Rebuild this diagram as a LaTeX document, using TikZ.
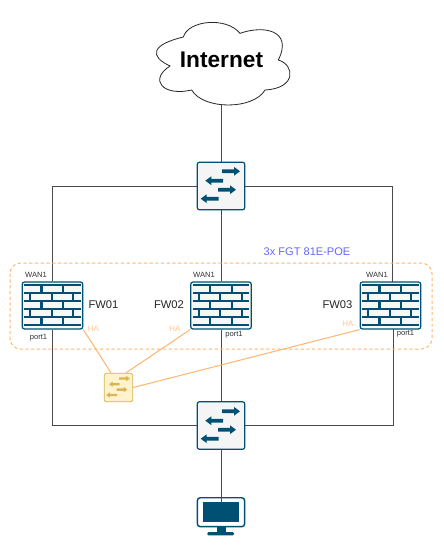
\documentclass[tikz,border=0pt]{standalone}
\usepackage{fontspec}
\setmainfont{Liberation Sans}
\usetikzlibrary{backgrounds}
\definecolor{netblue}{HTML}{005073}
\definecolor{hafill}{HTML}{FFF2CC}
\definecolor{haedge}{HTML}{D6B656}
\definecolor{orangeline}{HTML}{FFB570}
\definecolor{halabel}{HTML}{FFC79A}
\definecolor{grouplabel}{HTML}{6666FF}
\definecolor{wire}{HTML}{4A4A4A}
\tikzset{
  devbox/.style={draw=netblue,fill=#1,line width=0.9pt,rounded corners=1.6pt,inner sep=0pt},
  fwbox/.style={devbox=white!97!black,minimum width=45.3pt,minimum height=35.2pt},
  swbox/.style={devbox=white!96!black,minimum width=35.6pt,minimum height=35.6pt},
  habox/.style={draw=haedge,fill=hafill,line width=0.6pt,rounded corners=1.2pt,inner sep=0pt,minimum width=21.4pt,minimum height=21.4pt},
  pcbox/.style={draw=netblue,fill=white,line width=1.1pt,rounded corners=2.2pt,inner sep=0pt,minimum width=35.5pt,minimum height=21.7pt},
  wireline/.style={draw=wire,line width=0.7pt},
  haconn/.style={draw=orangeline,line width=0.75pt},
  small/.style={font=\fontsize{5.7}{6}\selectfont,text=black!80,inner sep=0pt},
  fwname/.style={font=\fontsize{8.4}{10}\selectfont,text=black!85,inner sep=0pt},
  halab/.style={font=\fontsize{6}{7}\selectfont,text=halabel,inner sep=0pt},
}
\newcommand{\brickicon}[2]{%
  \begin{scope}[shift={(#1,#2)},netblue,line width=1.55pt]
    \foreach \yy in {3.3,11.3,19.3,27.3,35.3,43.3}
      \draw (2,\yy) -- (58.4,\yy);
    \foreach \yy in {3.3,19.3,35.3}
      \foreach \xx in {19.3,41}
        \draw (\xx,\yy) -- (\xx,\yy+8);
    \foreach \yy in {11.3,27.3}
      \foreach \xx in {7.9,29.5,51}
        \draw (\xx,\yy) -- (\xx,\yy+8);
  \end{scope}}
\newcommand{\netarrow}[4]{% tail x, tip x, y, colour
  \pgfmathsetmacro{\dirn}{(#2>#1)?1:-1}
  \fill[#4] (#1,#3-1.9) -- ({#2-\dirn*6},#3-1.9) -- ({#2-\dirn*6},#3-4.4) -- (#2,#3)
     -- ({#2-\dirn*6},#3+4.4) -- ({#2-\dirn*6},#3+1.9) -- (#1,#3+1.9) -- cycle;}
\newcommand{\switchicon}[4]{% x,y,scale,colour
  \begin{scope}[shift={(#1,#2)},scale=#3]
    \netarrow{25}{43}{9.3}{#4}
    \netarrow{26}{8.3}{18.7}{#4}
    \netarrow{21}{39}{27.7}{#4}
    \netarrow{21.7}{3.7}{36.7}{#4}
  \end{scope}}
\begin{document}
\begin{tikzpicture}[x=0.75pt,y=-0.75pt]
\useasboundingbox (0,0) rectangle (443,545);
% group frame
\draw[orangeline,line width=0.75pt,dash pattern=on 2.4pt off 1.9pt,rounded corners=8pt] (10,263) rectangle (432,349);
% cloud
\begin{scope}[shift={(130,0)},x=0.25pt,y=-0.25pt]
\draw[fill=white,draw=black!85,line width=0.6pt]
  (120,198) .. controls (60,170) and (60,135) .. (160,111)
  .. controls (175,60) and (290,50) .. (330,100)
  .. controls (400,75) and (490,90) .. (445,180)
  .. controls (495,195) and (500,265) .. (405,270)
  .. controls (370,330) and (220,330) .. (185,270)
  .. controls (100,290) and (55,240) .. (120,198) -- cycle;
\end{scope}
\node[inner sep=0pt,minimum width=100pt,minimum height=62pt] (cloud) at (221,63.5) {};
\node[font=\bfseries\fontsize{17}{20}\selectfont,inner sep=0pt] (inet) at (221.5,60) {Internet};
% devices
\node[swbox] (sw1) at (221,186) {};
\switchicon{197}{162}{1}{netblue}
\node[swbox] (sw2) at (221,425.5) {};
\switchicon{197}{402}{1}{netblue}
\node[fwbox] (fw1) at (52.5,305.5) {};
\brickicon{22.2}{282}
\node[fwbox] (fw2) at (221,305.5) {};
\brickicon{190.7}{282}
\node[fwbox] (fw3) at (390.5,305.5) {};
\brickicon{360.2}{282}
\node[habox] (ha) at (118.5,387.5) {};
\switchicon{104}{373}{0.6}{haedge}
\coordinate (fw3n) at (392,282);
\coordinate (fw3s) at (393,329);
% monitor
\node[pcbox] (pc) at (221,512.2) {};
\fill[netblue] (202.7,501.7) rectangle (239.3,522.3);
\fill[netblue] (216.7,526.7) rectangle (226,532);
\fill[netblue,rounded corners=1pt] (207.3,532) rectangle (234,535.4);
\coordinate (pcin) at (221,502);
\draw[wireline] (sw2.south) -- (pcin);
% connectors
\begin{scope}[on background layer]
\fill[white] (0,0) rectangle (443,545);
\draw[wireline] (cloud.south) -- (sw1.north);
\draw[wireline] (sw1.west) -| (fw1.north);
\draw[wireline] (sw1.east) -| (fw3n);
\draw[wireline] (sw1.south) -- (fw2.north);
\draw[wireline] (fw1.south) |- (sw2.west);
\draw[wireline] (fw3s) |- (sw2.east);
\draw[wireline] (fw2.south) -- (sw2.north);
\draw[haconn] (fw1.south east) -- (ha.117);
\draw[haconn] (fw2.south west) -- (ha.63);
\draw[haconn] (fw3.south west) -- (ha.east);
\end{scope}
% labels
\node[small] (w1) at (36,275) {WAN1};
\node[small] (w2) at (204,275) {WAN1};
\node[small] (w3) at (377,275) {WAN1};
\node[small] (p1) at (38.5,337.5) {port1};
\node[small] (p2) at (234,335) {port1};
\node[small] (p3) at (405.5,334) {port1};
\node[fwname] (n1) at (103.5,305) {FW01};
\node[fwname] (n2) at (169,305) {FW02};
\node[fwname] (n3) at (337.5,305) {FW03};
\node[halab] (h1) at (93.5,329) {HA};
\node[halab] (h2) at (175,329) {HA};
\node[halab] (h3) at (348,324) {HA};
\node[font=\fontsize{8.3}{10}\selectfont,text=grouplabel,inner sep=0pt] (grp) at (307,252) {3x FGT 81E-POE};
\end{tikzpicture}
\end{document}
